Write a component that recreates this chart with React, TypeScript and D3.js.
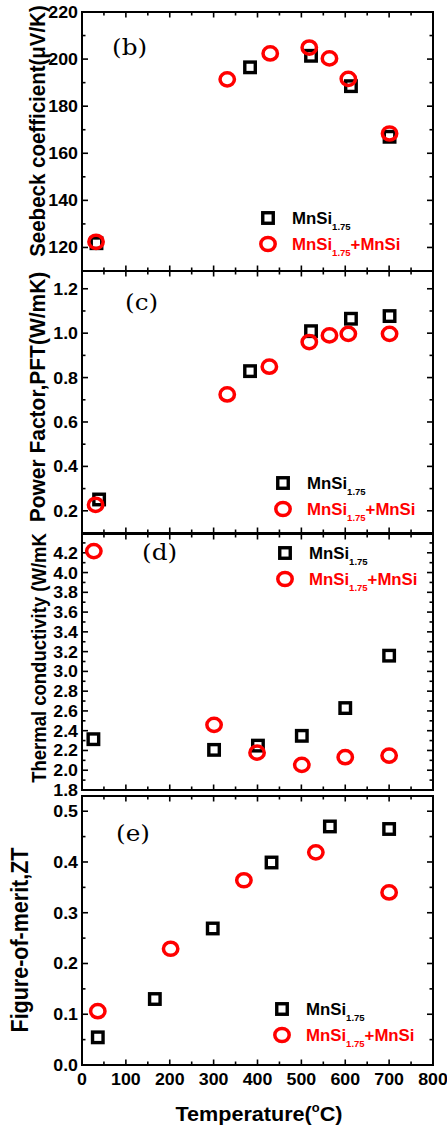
import React from "react";
import * as d3 from "d3";

// ---------- data ----------
const seebeckSqT = [33, 383, 522, 613, 701];
const seebeckSqV = [121.8, 196.5, 201.4, 188.5, 167.0];
const seebeckCiT = [32, 331, 429, 518, 564, 607, 701];
const seebeckCiV = [122.4, 191.4, 202.4, 204.9, 200.3, 191.6, 168.4];

const pfSqT = [39, 383, 522, 613, 701];
const pfSqV = [0.251, 0.829, 1.009, 1.065, 1.077];
const pfCiT = [31, 331, 427, 518, 564, 607, 701];
const pfCiV = [0.227, 0.724, 0.849, 0.96, 0.99, 0.997, 0.997];

const tcSqT = [26, 301, 401, 501, 600, 700];
const tcSqV = [2.314, 2.206, 2.249, 2.348, 2.629, 3.159];
const tcCiT = [27, 301, 399, 501, 600, 700];
const tcCiV = [4.217, 2.459, 2.178, 2.054, 2.132, 2.148];

const ztSqT = [36, 166, 298, 432, 565, 700];
const ztSqV = [0.0545, 0.13, 0.269, 0.399, 0.47, 0.465];
const ztCiT = [36, 202, 369, 533, 700];
const ztCiV = [0.106, 0.229, 0.364, 0.419, 0.34];

const xTicks = [0, 100, 200, 300, 400, 500, 600, 700, 800];
const xMinor = [50, 150, 250, 350, 450, 550, 650, 750];

const seebeckTicks = [120, 140, 160, 180, 200, 220];
const seebeckMinor = [110, 130, 150, 170, 190, 210];
const pfTicks = [0.2, 0.4, 0.6, 0.8, 1.0, 1.2];
const pfMinor = [0.1, 0.3, 0.5, 0.7, 0.9, 1.1];
const tcTicks = [1.8, 2.0, 2.2, 2.4, 2.6, 2.8, 3.0, 3.2, 3.4, 3.6, 3.8, 4.0, 4.2];
const tcMinor = [1.9, 2.1, 2.3, 2.5, 2.7, 2.9, 3.1, 3.3, 3.5, 3.7, 3.9, 4.1, 4.3];
const ztTicks = [0.0, 0.1, 0.2, 0.3, 0.4, 0.5];
const ztMinor = [0.05, 0.15, 0.25, 0.35, 0.45];

const seriesName1 = "MnSi";
const seriesSub = "1.75";
const seriesName2Tail = "+MnSi";

// ---------- layout ----------
const W = 447;
const H = 1129;
const LEFT = 82;
const RIGHT = 433;
const SX = 1.08; // horizontal glyph stretch seen in the reference
const SANS = "'Liberation Sans', Arial, sans-serif";
const SERIF = "'DejaVu Serif', 'Liberation Serif', serif";

const x = d3.scaleLinear().domain([0, 800]).range([LEFT, RIGHT]);

type Panel = {
  tag: string;
  top: number;
  bottom: number;
  domain: [number, number];
  ticks: number[];
  minor: number[];
  fmt: (v: number) => string;
  sqT: number[];
  sqV: number[];
  ciT: number[];
  ciV: number[];
  label: string;
  labelX: number;
  labelY: number;
  labelSize: number;
  tagX: number;
  tagY: number;
  legX: number;
  legY: number;
};

const panels: Panel[] = [
  {
    tag: "(b)", top: 12, bottom: 271, domain: [110, 220],
    ticks: seebeckTicks, minor: seebeckMinor, fmt: d3.format("d"),
    sqT: seebeckSqT, sqV: seebeckSqV, ciT: seebeckCiT, ciV: seebeckCiV,
    label: "Seebeck coefficient(\u03bcV/K)", labelX: 45, labelY: 131, labelSize: 20.5,
    tagX: 112, tagY: 55, legX: 268, legY: 218,
  },
  {
    tag: "(c)", top: 271, bottom: 533, domain: [0.1, 1.28],
    ticks: pfTicks, minor: pfMinor, fmt: d3.format(".1f"),
    sqT: pfSqT, sqV: pfSqV, ciT: pfCiT, ciV: pfCiV,
    label: "Power Factor,PFT(W/mK)", labelX: 45, labelY: 397, labelSize: 21,
    tagX: 125, tagY: 310, legX: 283, legY: 483,
  },
  {
    tag: "(d)", top: 534, bottom: 790, domain: [1.8, 4.39],
    ticks: tcTicks, minor: tcMinor, fmt: d3.format(".1f"),
    sqT: tcSqT, sqV: tcSqV, ciT: tcCiT, ciV: tcCiV,
    label: "Thermal conductivity (W/mK", labelX: 46, labelY: 658, labelSize: 18.5,
    tagX: 142, tagY: 560, legX: 285, legY: 553,
  },
  {
    tag: "(e)", top: 796, bottom: 1065, domain: [0, 0.53],
    ticks: ztTicks, minor: ztMinor, fmt: d3.format(".1f"),
    sqT: ztSqT, sqV: ztSqV, ciT: ztCiT, ciV: ztCiV,
    label: "Figure-of-merit,ZT", labelX: 28, labelY: 940, labelSize: 21.5,
    tagX: 116, tagY: 841, legX: 282, legY: 1009,
  },
];

const SQ = 10.5; // square side (stroke centre)
const SQW = 3.4;
const CRX = 7.2;
const CRY = 6.6;
const CW = 3.5;
const RED = "#ff0000";

function Square({ cx, cy }: { cx: number; cy: number }) {
  return (
    <rect x={cx - SQ / 2} y={cy - SQ / 2} width={SQ} height={SQ}
      fill="none" stroke="#000" strokeWidth={SQW} />
  );
}
function Circle({ cx, cy }: { cx: number; cy: number }) {
  return (
    <ellipse cx={cx} cy={cy} rx={CRX} ry={CRY} fill="none" stroke={RED} strokeWidth={CW} />
  );
}

function PanelView({ p, last }: { p: Panel; last: boolean }) {
  const y = d3.scaleLinear().domain(p.domain).range([p.bottom, p.top]);
  const inRange = (v: number) => v >= p.domain[0] - 1e-9 && v <= p.domain[1] + 1e-9;
  return (
    <g>
      {p.minor.filter(inRange).map((v) => (
        <g key={"ym" + v}>
          <line x1={LEFT} x2={LEFT + 3.5} y1={y(v)} y2={y(v)} stroke="#000" strokeWidth={1.6} />
          <line x1={RIGHT} x2={RIGHT - 3.5} y1={y(v)} y2={y(v)} stroke="#000" strokeWidth={1.6} />
        </g>
      ))}
      {p.ticks.filter(inRange).map((v) => (
        <g key={"yt" + v}>
          <line x1={LEFT} x2={LEFT + 6} y1={y(v)} y2={y(v)} stroke="#000" strokeWidth={1.6} />
          <line x1={RIGHT} x2={RIGHT - 6} y1={y(v)} y2={y(v)} stroke="#000" strokeWidth={1.6} />
          <text transform={`translate(${LEFT - 4},${y(v) + 6}) scale(${SX},1)`}
            textAnchor="end" fontFamily={SANS} fontWeight="bold" fontSize={16.5}>
            {p.fmt(v)}
          </text>
        </g>
      ))}
      {xMinor.map((v) => (
        <g key={"xm" + v}>
          <line x1={x(v)} x2={x(v)} y1={p.bottom} y2={p.bottom - 3.5} stroke="#000" strokeWidth={1.6} />
          <line x1={x(v)} x2={x(v)} y1={p.top} y2={p.top + 3.5} stroke="#000" strokeWidth={1.6} />
        </g>
      ))}
      {xTicks.map((v) => (
        <g key={"xt" + v}>
          <line x1={x(v)} x2={x(v)} y1={p.bottom} y2={p.bottom - 5.5} stroke="#000" strokeWidth={1.6} />
          <line x1={x(v)} x2={x(v)} y1={p.top} y2={p.top + 5.5} stroke="#000" strokeWidth={1.6} />
          {last && (
            <text transform={`translate(${x(v)},${p.bottom + 20}) scale(${SX},1)`}
              textAnchor="middle" fontFamily={SANS} fontWeight="bold" fontSize={16.5}>
              {v}
            </text>
          )}
        </g>
      ))}
      <rect x={LEFT} y={p.top} width={RIGHT - LEFT} height={p.bottom - p.top}
        fill="none" stroke="#000" strokeWidth={2} />
      {p.sqT.map((t, i) => <Square key={"s" + i} cx={x(t)} cy={y(p.sqV[i])} />)}
      {p.ciT.map((t, i) => <Circle key={"c" + i} cx={x(t)} cy={y(p.ciV[i])} />)}
      <text transform={`translate(${p.tagX},${p.tagY}) scale(1.15,1)`}
        fontFamily={SERIF} fontSize={21.5}>{p.tag}</text>
      <Square cx={p.legX} cy={p.legY} />
      <text x={p.legX + 24} y={p.legY + 6}
        fontFamily={SANS} fontWeight="bold" fontSize={16.8}>
        {seriesName1}
        <tspan fontSize={9.5} dy={6}>{seriesSub}</tspan>
      </text>
      <Circle cx={p.legX} cy={p.legY + 26} />
      <text x={p.legX + 24} y={p.legY + 32}
        fontFamily={SANS} fontWeight="bold" fontSize={16.8} fill={RED}>
        {seriesName1}
        <tspan fontSize={9.5} dy={6}>{seriesSub}</tspan>
        <tspan dy={-6}>{seriesName2Tail}</tspan>
      </text>
      <text transform={`translate(${p.labelX},${p.labelY}) scale(${SX},1) rotate(-90)`}
        textAnchor="middle" fontFamily={SANS} fontWeight="bold" fontSize={p.labelSize}>
        {p.label}
      </text>
    </g>
  );
}

export default function App() {
  return (
    <svg width={W} height={H} viewBox={`0 0 ${W} ${H}`}
      style={{ position: "absolute", left: 0, top: 0, background: "#fff" }}>
      <rect width={W} height={H} fill="#fff" />
      {panels.map((p, i) => (
        <PanelView key={p.tag} p={p} last={i === panels.length - 1} />
      ))}
      <text transform={`translate(259,1121) scale(${SX},1)`} textAnchor="middle"
        fontFamily={SANS} fontWeight="bold" fontSize={20}>
        Temperature(
        <tspan fontSize={12} dy={-9}>o</tspan>
        <tspan dy={9}>C)</tspan>
      </text>
    </svg>
  );
}
